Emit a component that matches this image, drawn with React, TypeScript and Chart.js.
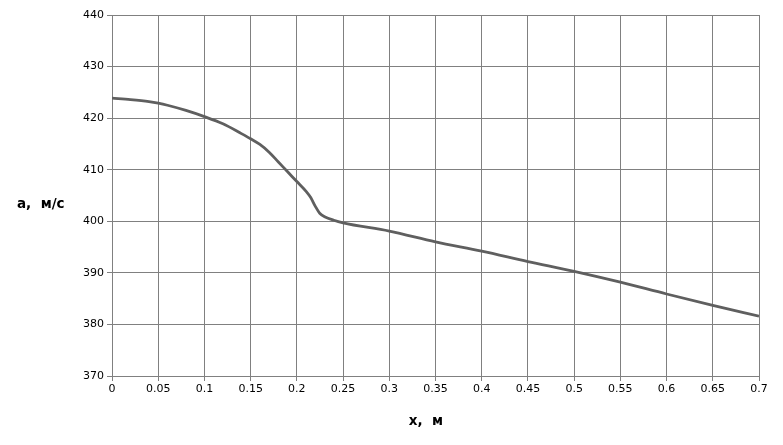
import React, { useEffect, useRef } from "react";
import { Chart, registerables } from "chart.js";

Chart.register(...registerables);

const xValues = [0, 0.02, 0.04, 0.05, 0.06, 0.08, 0.1, 0.12, 0.14, 0.15, 0.16, 0.17, 0.18, 0.19, 0.2, 0.21, 0.215, 0.22, 0.225, 0.23, 0.24, 0.25, 0.3, 0.35, 0.4, 0.45, 0.5, 0.55, 0.6, 0.65, 0.7];
const aValues = [423.9, 423.6, 423.2, 422.9, 422.5, 421.5, 420.3, 418.9, 417.0, 416.0, 414.9, 413.4, 411.5, 409.6, 407.7, 405.8, 404.6, 402.9, 401.5, 400.9, 400.2, 399.7, 398.1, 396.0, 394.2, 392.2, 390.3, 388.2, 385.9, 383.7, 381.6];
const yTitle = "a,  м/с";
const xTitle = "x,  м";

const titlePlugin = {
  id: "titles",
  afterDraw(chart: any) {
    const ctx = chart.ctx;
    ctx.save();
    ctx.fillStyle = "#000";
    ctx.font = "bold 13.5px 'DejaVu Sans'";
    ctx.textBaseline = "alphabetic";
    ctx.textAlign = "left";
    ctx.fillText(yTitle, 17, 208);
    ctx.textAlign = "center";
    ctx.fillText(xTitle, 426, 425);
    ctx.restore();
  },
};

export default function App() {
  const ref = useRef<HTMLCanvasElement>(null);
  useEffect(() => {
    if (!ref.current) return;
    const chart = new Chart(ref.current, {
      type: "line",
      data: {
        datasets: [
          {
            data: xValues.map((x, i) => ({ x, y: aValues[i] })),
            borderColor: "#5f5f5f",
            borderWidth: 2.8,
            pointRadius: 0,
            cubicInterpolationMode: "monotone",
            fill: false,
          },
        ],
      },
      options: {
        responsive: false,
        animation: false,
        layout: { padding: { left: 0, top: 15, right: 24, bottom: 0 } },
        plugins: { legend: { display: false }, tooltip: { enabled: false } },
        scales: {
          x: {
            type: "linear",
            min: 0,
            max: 0.7,
            afterFit: (s: any) => { s.height = 69; },
            afterBuildTicks: (s: any) => {
              const t = [];
              for (let i = 0; i <= 14; i++) t.push({ value: Math.round(i * 5) / 100 });
              s.ticks = t;
            },
            ticks: {
              color: "#000",
              font: { family: "'DejaVu Sans'", size: 11 },
              padding: 2,
              maxRotation: 0,
              autoSkip: false,
              callback: (v: any) => String(Number(v)),
            },
            grid: { color: "#808080", lineWidth: 1, tickLength: 5, drawTicks: true },
            border: { color: "#808080" },
          },
          y: {
            type: "linear",
            min: 370,
            max: 440,
            afterFit: (s: any) => { s.width = 112; },
            ticks: {
              stepSize: 10,
              color: "#000",
              font: { family: "'DejaVu Sans'", size: 11 },
              padding: 3,
            },
            grid: { color: "#808080", lineWidth: 1, tickLength: 5, drawTicks: true },
            border: { color: "#808080" },
          },
        },
      },
      plugins: [titlePlugin],
    });
    return () => chart.destroy();
  }, []);
  return (
    <div style={{ position: "fixed", left: 0, top: 0, width: 783, height: 445, background: "#fff" }}>
      <canvas ref={ref} width={783} height={445} />
    </div>
  );
}
